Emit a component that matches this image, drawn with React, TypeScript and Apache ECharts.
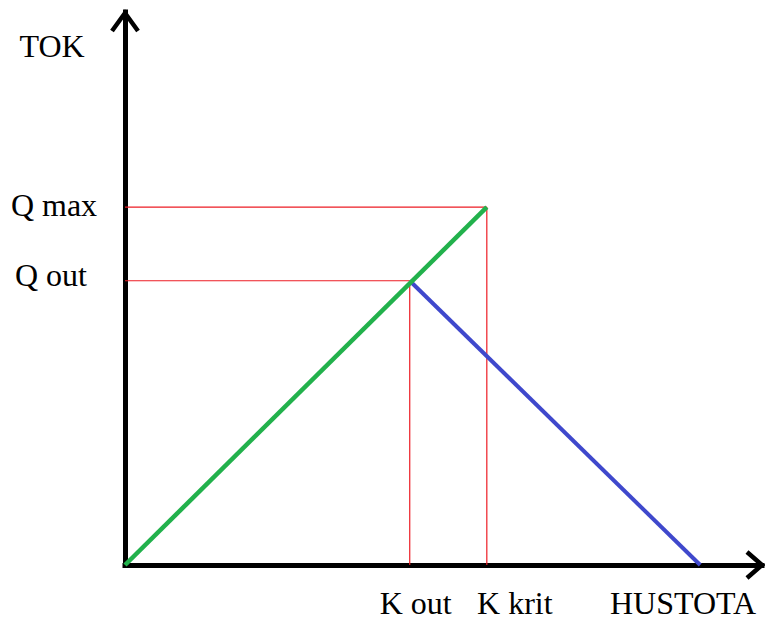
import React, { useEffect, useRef } from "react";
import * as echarts from "echarts";

// Key densities (x) and flows (y), in chart units
const densityNames = ["K out", "K krit"];
const densityValues = [44.7, 56.8];
const jamDensity = 90.3;
const flowNames = ["Q max", "Q out"];
const flowValues = [64.7, 51.4];
const axisNames = ["HUSTOTA", "TOK"];
const axisMax = 100;

const kOut = densityValues[0];
const kKrit = densityValues[1];
const qMax = flowValues[0];
const qOut = flowValues[1];

const FONT = '32px "Liberation Serif", "Times New Roman", serif';

export default function App() {
  const ref = useRef<HTMLDivElement>(null);
  useEffect(() => {
    if (!ref.current) return;
    const chart = echarts.init(ref.current, undefined, { renderer: "svg" });
    chart.setOption({
      animation: false,
      backgroundColor: "#ffffff",
      grid: { left: 125, right: 3, top: 12, bottom: 55 },
      xAxis: {
        type: "value",
        min: 0,
        max: axisMax,
        axisLine: { show: true, onZero: false, lineStyle: { color: "#000", width: 5, cap: "square" } },
        axisTick: { show: false },
        axisLabel: { show: false },
        splitLine: { show: false },
      },
      yAxis: {
        type: "value",
        min: 0,
        max: axisMax,
        axisLine: { show: true, onZero: false, lineStyle: { color: "#000", width: 5, cap: "square" } },
        axisTick: { show: false },
        axisLabel: { show: false },
        splitLine: { show: false },
      },
      series: [
        {
          type: "line",
          data: [[0, qMax], [kKrit, qMax], [kKrit, 0]],
          symbol: "none",
          lineStyle: { color: "#ed1c24", width: 1.2 },
          z: 1,
        },
        {
          type: "line",
          data: [[0, qOut], [kOut, qOut], [kOut, 0]],
          symbol: "none",
          lineStyle: { color: "#ed1c24", width: 1.2 },
          z: 1,
        },
        {
          type: "line",
          data: [[kOut, qOut], [jamDensity, 0]],
          symbol: "none",
          lineStyle: { color: "#3f48cc", width: 4 },
          z: 3,
        },
        {
          type: "line",
          data: [[0, 0], [kKrit, qMax]],
          symbol: "none",
          lineStyle: { color: "#22b14c", width: 4.5 },
          z: 4,
        },
      ],
    });

    const px = (x: number, y: number) =>
      chart.convertToPixel({ gridIndex: 0 }, [x, y]) as number[];
    const o = px(0, 0);
    const top = px(0, axisMax);
    const right = px(axisMax, 0);

    const txt = (text: string, x: number, y: number) => ({
      type: "text",
      style: {
        text,
        x,
        y,
        font: FONT,
        fill: "#000",
        textAlign: "center",
        textVerticalAlign: "middle",
        align: "center",
        verticalAlign: "middle",
      },
      z: 10,
    });

    const kOutPx = px(kOut, 0);
    const kKritPx = px(kKrit, 0);
    const qMaxPx = px(0, qMax);
    const qOutPx = px(0, qOut);

    chart.setOption({
      graphic: [
        {
          type: "polyline",
          shape: { points: [[top[0] - 13, top[1] + 19], [top[0], top[1] + 1], [top[0] + 13, top[1] + 19]] },
          style: { stroke: "#000", lineWidth: 4.5, fill: null },
          z: 10,
        },
        {
          type: "polyline",
          shape: { points: [[right[0] - 15, right[1] - 13], [right[0], right[1]], [right[0] - 15, right[1] + 13]] },
          style: { stroke: "#000", lineWidth: 4.5, fill: null },
          z: 10,
        },
        txt(axisNames[1], 52, 46),
        txt(flowNames[0], 54, qMaxPx[1] - 2),
        txt(flowNames[1], 51, qOutPx[1] - 6),
        txt(densityNames[0], kOutPx[0] + 6, o[1] + 38),
        txt(densityNames[1], kKritPx[0] + 28, o[1] + 38),
        txt(axisNames[0], 683, o[1] + 38),
      ],
    });

    return () => chart.dispose();
  }, []);
  return (
    <div
      ref={ref}
      style={{ position: "absolute", left: 0, top: 0, width: 765, height: 620 }}
    />
  );
}
